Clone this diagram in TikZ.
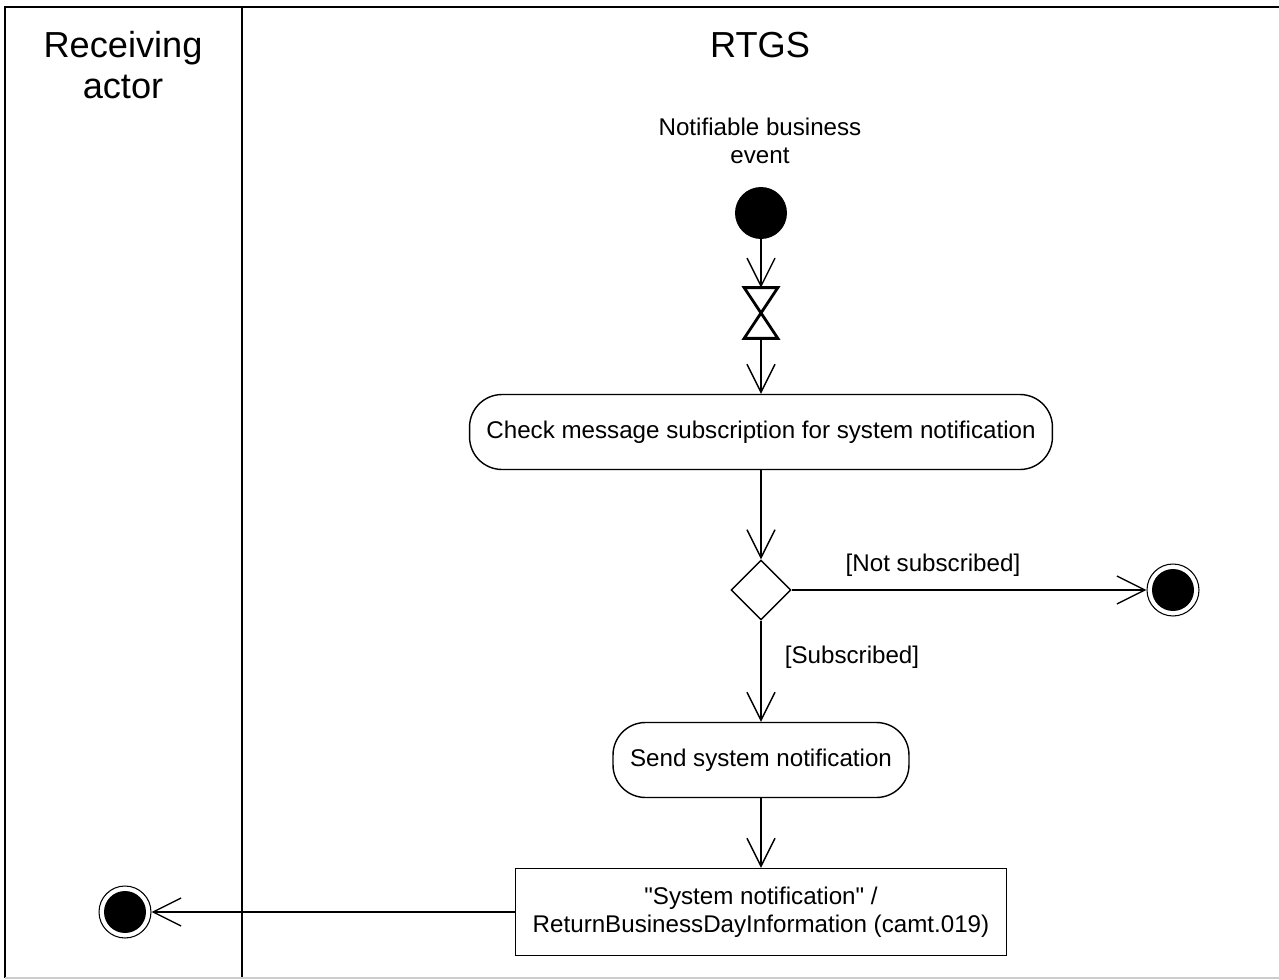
\documentclass[tikz,border=0pt]{standalone}
\usepackage{fontspec}
\setmainfont{Liberation Sans}
\usepackage{tikz}
\usetikzlibrary{arrows.meta,shapes.geometric}

\begin{document}
\begin{tikzpicture}[
  x=0.02cm, y=-0.02cm,
  every node/.style={font=\fontsize{13.75}{16}\selectfont},
  lane/.style={font=\fontsize{20.6}{23}\selectfont, align=center},
  flow/.style={line width=0.8pt, -{Straight Barb[length=0.56cm, width=0.56cm]}},
  act/.style={draw, line width=0.8pt, rounded corners=0.65cm, minimum height=1.5cm, inner sep=0pt},
  obj/.style={draw, line width=0.8pt, minimum width=9.82cm, minimum height=1.74cm, inner sep=0pt, align=center},
  startdot/.style={circle, fill, minimum size=1.04cm, inner sep=0pt},
  enddot/.style={circle, draw, line width=0.6pt, minimum size=1.04cm, inner sep=0pt,
    path picture={\fill (path picture bounding box.center) circle (0.42cm);}},
  choice/.style={diamond, draw, line width=0.8pt, minimum width=1.2cm, minimum height=1.2cm, inner sep=0pt},
  hglass/.style={minimum width=0.66cm, minimum height=1cm, inner sep=0pt}
]
\useasboundingbox (0,0) rectangle (1279,980);
\draw[line width=1.1pt] (5,978) -- (5,7) -- (1279,7);
\draw[line width=1.1pt] (242,7) -- (242,978);
\draw[black!20, line width=1pt] (5,978) -- (1279,978);

\node[lane] (recv) at (123,65) {Receiving\\actor};
\node[lane] (rtgs) at (760,45) {RTGS};

\node[align=center] (event) at (760,141) {Notifiable business\\event};
\node[startdot] (start) at (761,213) {};
\node[hglass]   (wait)  at (761,313) {};
\draw[line width=1.6pt] (wait.north west) -- (wait.north east) -- (wait.south west) -- (wait.south east) -- cycle;
\node[act, minimum width=11.66cm] (check) at (761,432) {Check message subscription for system notification};
\node[choice] (sub)   at (761,590) {};
\node[enddot] (stop1) at (1173,590) {};
\node (notsub) at (933,565) {[Not subscribed]};
\node (issub)  at (852,657) {[Subscribed]};
\node[act, minimum width=5.92cm] (send) at (761,760) {Send system notification};
\node[obj] (msg) at (761,912) {\textquotedbl System notification\textquotedbl{} /\\ReturnBusinessDayInformation (camt.019)};
\node[enddot] (stop2) at (125,912) {};

\draw[flow] (start) -- (wait);
\draw[flow] (wait) -- (check);
\draw[flow] (check) -- (sub);
\draw[flow] (sub) -- (stop1);
\draw[flow] (sub) -- (send);
\draw[flow] (send) -- (msg);
\draw[flow] (msg) -- (stop2);
\end{tikzpicture}
\end{document}
